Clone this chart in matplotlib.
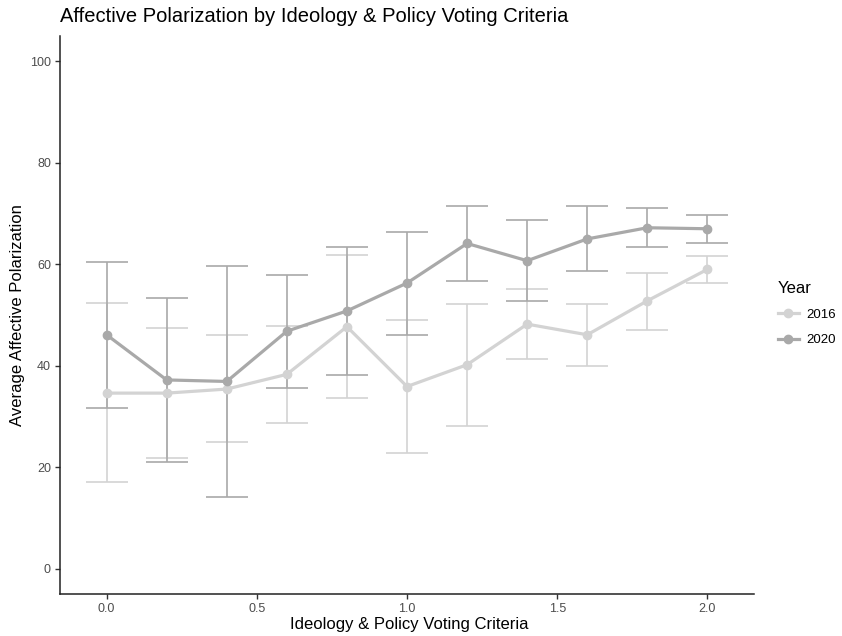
import numpy as np
import matplotlib
matplotlib.use("Agg")
import matplotlib.pyplot as plt
from matplotlib.lines import Line2D

plt.rcParams["font.family"] = ["Liberation Sans", "DejaVu Sans"]

# data
x = [0.0, 0.2, 0.4, 0.6, 0.8, 1.0, 1.2, 1.4, 1.6, 1.8, 2.0]

mean_2016 = [34.6, 34.6, 35.4, 38.3, 47.7, 35.9, 40.2, 48.2, 46.1, 52.8, 59.0]
upper_2016 = [52.3, 47.4, 46.0, 47.8, 61.8, 49.1, 52.2, 55.2, 52.2, 58.3, 61.6]
lower_2016 = [17.1, 21.9, 24.9, 28.7, 33.7, 22.8, 28.1, 41.3, 39.9, 47.1, 56.4]

mean_2020 = [46.1, 37.2, 36.9, 46.8, 50.8, 56.3, 64.1, 60.7, 65.0, 67.2, 67.0]
upper_2020 = [60.5, 53.4, 59.7, 57.9, 63.4, 66.4, 71.4, 68.8, 71.5, 71.0, 69.7]
lower_2020 = [31.6, 21.0, 14.1, 35.6, 38.1, 46.1, 56.8, 52.7, 58.7, 63.4, 64.2]

years = ["2016", "2020"]
colors = ["#d3d3d3", "#a9a9a9"]

W, H = 842, 636
fig = plt.figure(figsize=(W / 100, H / 100), dpi=100)
ax = fig.add_axes([60 / W, 1 - 594 / H, (754 - 60) / W, (594 - 36) / H])

series = [(mean_2016, lower_2016, upper_2016), (mean_2020, lower_2020, upper_2020)]
for (m, lo, hi), c in zip(series, colors):
    m = np.array(m)
    yerr = [m - np.array(lo), np.array(hi) - m]
    ax.errorbar(x, m, yerr=yerr, fmt="none", ecolor=c, elinewidth=1.2,
                capsize=15, capthick=1.2, zorder=2)
for (m, lo, hi), c in zip(series, colors):
    ax.plot(x, m, color=c, lw=2.3, marker="o", ms=6, zorder=3)

ax.set_xlim(-0.155, 2.155)
ax.set_ylim(-5, 105)
ax.set_xticks([0.0, 0.5, 1.0, 1.5, 2.0])
ax.set_xticklabels(["0.0", "0.5", "1.0", "1.5", "2.0"])
ax.set_yticks([0, 20, 40, 60, 80, 100])

for s in ["top", "right"]:
    ax.spines[s].set_visible(False)
for s in ["left", "bottom"]:
    ax.spines[s].set_linewidth(1.1)
    ax.spines[s].set_color("#222222")
ax.tick_params(axis="both", length=3.5, width=1.0, color="#333333",
               labelcolor="#4d4d4d", labelsize=9, pad=3)

fig.text(409 / W, 1 - 625 / H, "Ideology & Policy Voting Criteria",
         fontsize=12, ha="center", va="center")
fig.text(18 / W, 1 - 315 / H, "Average Affective Polarization",
         fontsize=12, ha="center", va="center", rotation=90)
fig.text(60 / W, 1 - 17 / H, "Affective Polarization by Ideology & Policy Voting Criteria",
         fontsize=14.5, ha="left", va="center")

handles = [Line2D([0], [0], color=c, lw=2.3, marker="o", ms=6) for c in colors]
leg = fig.legend(handles, years, title="Year", loc="upper left",
                 bbox_to_anchor=(767 / W, 1 - 270 / H), frameon=False,
                 fontsize=9.5, title_fontsize=12, handlelength=1.6,
                 handletextpad=0.6, labelspacing=1.0, borderpad=0.3)
leg._legend_box.align = "left"

fig.savefig("out.png", dpi=100)
